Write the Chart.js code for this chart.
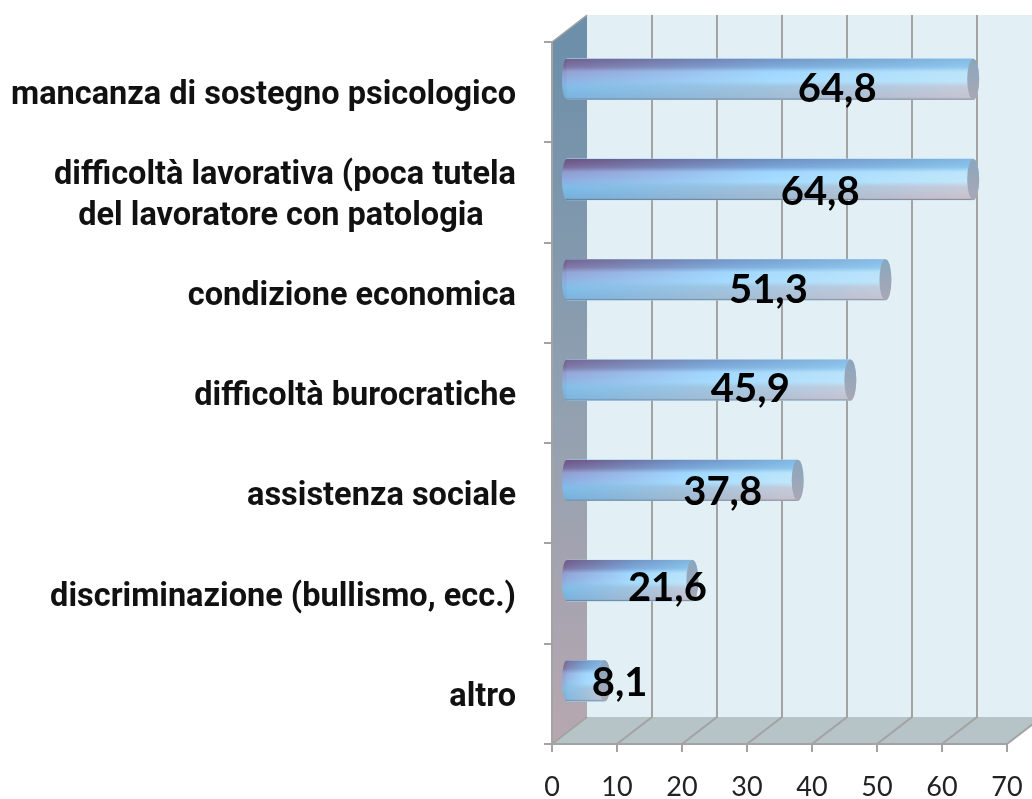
<!DOCTYPE html>
<html><head><meta charset="utf-8">
<style>html,body{margin:0;padding:0;background:#fff}canvas{display:block;filter:blur(0.6px)}</style>
<script src="https://cdn.jsdelivr.net/npm/chart.js@4"></script>
</head><body><canvas id="c" width="1032" height="799"></canvas>
<script>
const categories = [
  "mancanza di sostegno psicologico",
  ["difficoltà lavorativa (poca tutela", "del lavoratore con patologia    "],
  "condizione economica",
  "difficoltà burocratiche",
  "assistenza sociale",
  "discriminazione (bullismo, ecc.)",
  "altro"
];
const values = [64.8, 64.8, 51.3, 45.9, 37.8, 21.6, 8.1];
const axisTicks = [0, 10, 20, 30, 40, 50, 60, 70];

const DEPTH_X = 35, DEPTH_Y = 27, GRID = '#a3a3a3', BAR_SHIFT = -13;
const labelNudgeX = [-136, -153, -117, -100, -75, -25, 15];
const labelNudgeY = [-3, 0, -3, -4, -1, -5, -11];
const rows = [
  [0,    [107,80,128], [110,140,190], [130,185,228]],
  [0.20, [122,106,154],[120,165,215], [140,200,238]],
  [0.32, [145,155,208],[160,215,255], [190,230,250]],
  [0.55, [140,175,225],[165,220,255], [195,232,250]],
  [0.68, [125,188,232],[160,195,222], [200,205,218]],
  [0.96, [118,175,220],[160,185,208], [205,192,204]],
  [1,    [95,115,135], [105,120,135], [125,120,130]]
];
const mix = (a,b,t)=>a.map((v,i)=>Math.round(v+(b[i]-v)*t));
const rgb = c=>`rgb(${c[0]},${c[1]},${c[2]})`;

function rowColours(t){
  let i = 0;
  while (i < rows.length-2 && t > rows[i+1][0]) i++;
  const k = (t-rows[i][0])/(rows[i+1][0]-rows[i][0]);
  return [1,2,3].map(j=>mix(rows[i][j],rows[i+1][j],k));
}

const scene = {
  id:'scene',
  beforeDraw(chart){
    const {ctx,scales:{x,y}} = chart;
    const x0=x.getPixelForValue(0), yB=y.bottom, yT=y.top;
    ctx.save();
    ctx.fillStyle='#e2f0f6';
    ctx.fillRect(x0+DEPTH_X,yT-DEPTH_Y,chart.width-x0-DEPTH_X,yB-yT);
    const g=ctx.createLinearGradient(0,yT,0,yB);
    g.addColorStop(0,'#6d8fa9');g.addColorStop(.5,'#90a0b0');g.addColorStop(1,'#b7a7af');
    ctx.fillStyle=g;
    ctx.beginPath();ctx.moveTo(x0,yT);ctx.lineTo(x0+DEPTH_X,yT-DEPTH_Y);ctx.lineTo(x0+DEPTH_X,yB-DEPTH_Y);ctx.lineTo(x0,yB);ctx.closePath();ctx.fill();
    const xE=x.getPixelForValue(70);
    ctx.fillStyle='#b6c3c7';
    ctx.beginPath();ctx.moveTo(x0,yB);ctx.lineTo(x0+DEPTH_X,yB-DEPTH_Y);ctx.lineTo(xE+DEPTH_X,yB-DEPTH_Y);ctx.lineTo(xE,yB);ctx.closePath();ctx.fill();
    ctx.strokeStyle=GRID;ctx.lineWidth=2;
    axisTicks.forEach(v=>{
      const px=x.getPixelForValue(v);
      ctx.beginPath();ctx.moveTo(px,yB);ctx.lineTo(px+DEPTH_X,yB-DEPTH_Y);
      if(v>0 && v<70) ctx.lineTo(px+DEPTH_X,yT-DEPTH_Y);
      ctx.stroke();
    });
    ctx.lineWidth=1.5;
    ctx.beginPath();ctx.moveTo(x0,yT);ctx.lineTo(x0+DEPTH_X,yT-DEPTH_Y);ctx.stroke();
    ctx.restore();
  },
  beforeDatasetDraw(chart){chart.ctx.save();chart.ctx.translate(0,BAR_SHIFT);},
  afterDatasetDraw(chart,args){
    const {ctx}=chart;
    args.meta.data.forEach(bar=>{
      const top=bar.y-bar.height/2, h=bar.height, l=bar.base, r=bar.x, ry=h/2, cy=bar.y;
      ctx.clearRect;
      ctx.save();
      ctx.beginPath();
      ctx.ellipse(l,cy,5,ry,0,Math.PI/2,Math.PI*1.5);
      ctx.lineTo(r,top);
      ctx.ellipse(r,cy,6,ry,0,-Math.PI/2,Math.PI/2);
      ctx.closePath();ctx.clip();
      for(let j=0;j<h;j++){
        const c=rowColours((j+.5)/h);
        const g=ctx.createLinearGradient(l-5,0,r+6,0);
        g.addColorStop(0,rgb(c[0]));g.addColorStop(.5,rgb(c[1]));g.addColorStop(1,rgb(c[2]));
        ctx.fillStyle=g;ctx.fillRect(l-6,top+j,r-l+14,1.2);
      }
      ctx.restore();
      const g=ctx.createLinearGradient(0,top,0,top+h);
      g.addColorStop(0,'#8aa6bd');g.addColorStop(1,'#a9a8b6');
      ctx.fillStyle=g;
      ctx.beginPath();ctx.ellipse(r,cy,6,ry,0,0,Math.PI*2);ctx.fill();
    });
    ctx.restore();
  },
  afterDraw(chart){
    const {ctx,scales:{y}}=chart;
    const meta=chart.getDatasetMeta(0);
    ctx.save();
    ctx.font='bold 40px Lato';ctx.fillStyle='#000';ctx.textAlign='center';ctx.textBaseline='middle';
    meta.data.forEach((bar,i)=>{
      const t=values[i].toFixed(1).replace('.',',');
      ctx.fillText(t,bar.x+labelNudgeX[i],y.getPixelForValue(i)+labelNudgeY[i]);
    });
    ctx.restore();
  }
};

new Chart(document.getElementById('c'),{
  type:'bar',
  data:{labels:categories,datasets:[{data:values,base:2.3,backgroundColor:'#a5d5f5',borderWidth:0,barThickness:41}]},
  plugins:[scene],
  options:{
    indexAxis:'y',responsive:false,animation:false,
    layout:{padding:{top:42,right:25,left:0,bottom:0}},
    plugins:{legend:{display:false},tooltip:{enabled:false}},
    scales:{
      x:{type:'linear',min:0,max:70,
        afterBuildTicks(s){s.ticks=axisTicks.map(v=>({value:v}));},
        afterFit(s){s.height=55;s.paddingLeft=0;s.paddingRight=0;},
        border:{display:true,color:GRID,width:2},
        grid:{drawOnChartArea:false,drawTicks:true,tickLength:8,color:GRID,lineWidth:2},
        ticks:{font:{family:'Lato',size:27},color:'#222',padding:19,maxRotation:0,autoSkip:false}
      },
      y:{type:'category',offset:true,
        afterFit(s){s.width=552;s.paddingTop=0;s.paddingBottom=0;},
        border:{display:true,color:GRID,width:2},
        grid:{drawOnChartArea:false,drawTicks:true,tickLength:8,color:GRID,lineWidth:2,offset:true},
        ticks:{font:{family:'Roboto',size:32.5,weight:'bold',lineHeight:1.27},color:'#111',padding:28,labelOffset:4,autoSkip:false,crossAlign:'near'}
      }
    }
  }
});
</script></body></html>
